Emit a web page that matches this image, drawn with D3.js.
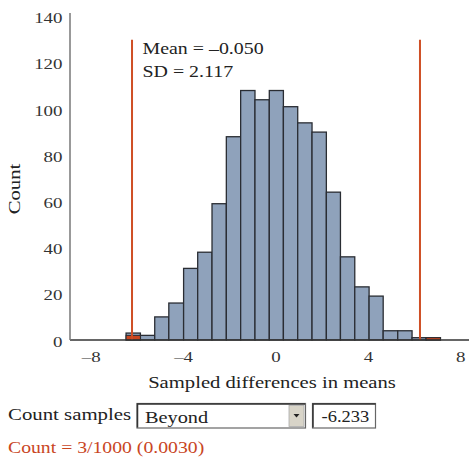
<!DOCTYPE html>
<html><head><meta charset="utf-8">
<script src="https://cdn.jsdelivr.net/npm/d3@7"></script>
<style>
html,body{margin:0;padding:0;background:#fff;}
svg{display:block;}
text{font-family:"Liberation Serif","Times New Roman",serif;}
</style></head>
<body>
<svg id="chart" width="469" height="458"></svg>
<script>
// ---- data ----
const binLower = [-6.49,-5.87,-5.25,-4.64,-4.00,-3.39,-2.77,-2.15,-1.53,-0.91,-0.29,0.32,0.94,1.56,2.18,2.79,3.41,4.03,4.64,5.27,5.89,6.50];
const binUpper = [-5.87,-5.25,-4.64,-4.00,-3.39,-2.77,-2.15,-1.53,-0.91,-0.29,0.32,0.94,1.56,2.18,2.79,3.41,4.03,4.64,5.27,5.89,6.50,7.12];
const counts   = [3,2,10,16,31,38,59,88,108,104,108,101,94,90,64,36,23,19,4,4,1,1];
const tailCounts = [2,0,0,0,0,0,0,0,0,0,0,0,0,0,0,0,0,0,0,0,0,1];
const cutoffs = [-6.233, 6.233];
const cutoffTop = 130;
const xTicks = [-8,-4,0,4,8];
const yTicks = [0,20,40,60,80,100,120,140];
const statLines = ["Mean = \u20130.050", "SD = 2.117"];
const xTitle = "Sampled differences in means";
const yTitle = "Count";
const controlLabel = "Count samples";
const selectValue = "Beyond";
const inputValue = "-6.233";
const resultText = "Count = 3/1000 (0.0030)";

// ---- drawing ----
const svg = d3.select("#chart");
const x = d3.scaleLinear().domain([-8, 8]).range([91.2, 460.8]);
const y = d3.scaleLinear().domain([0, 140]).range([340, 16.6]);
const axisLeftX = 70;

// wide serif text helper (reference glyphs are wider than tall)
function label(g, tx, ty, str, opt) {
  opt = opt || {};
  const fs = opt.fs || 17, sx = opt.sx || 1.18, rot = opt.rot || 0;
  return g.append("text")
    .attr("transform", `translate(${tx},${ty}) rotate(${rot}) scale(${sx},1)`)
    .attr("text-anchor", opt.anchor || "start")
    .attr("font-size", fs)
    .attr("fill", opt.fill || "#222")
    .text(str);
}

const bins = counts.map((c,i)=>({x0:binLower[i], x1:binUpper[i], c, t:tailCounts[i]}));

// bars
svg.append("g").selectAll("rect").data(bins).join("rect")
  .attr("x", d=>x(d.x0)).attr("width", d=>x(d.x1)-x(d.x0))
  .attr("y", d=>y(d.c)).attr("height", d=>y(0)-y(d.c))
  .attr("fill", "#8fa2bb").attr("stroke", "#2a2d33").attr("stroke-width", 1.3);

// tail highlighted portion
svg.append("g").selectAll("rect").data(bins.filter(d=>d.t>0)).join("rect")
  .attr("x", d=>x(d.x0)).attr("width", d=>x(d.x1)-x(d.x0))
  .attr("y", d=>y(d.t)).attr("height", d=>y(0)-y(d.t))
  .attr("fill", "#c9461f").attr("stroke", "#2a2d33").attr("stroke-width", 1.0);

// cutoff lines
svg.append("g").selectAll("line").data(cutoffs).join("line")
  .attr("x1", d=>x(d)).attr("x2", d=>x(d))
  .attr("y1", y(0)).attr("y2", y(cutoffTop))
  .attr("stroke", "#cf4f25").attr("stroke-width", 2);

// axes
svg.append("line").attr("x1", axisLeftX).attr("x2", 469).attr("y1", y(0)).attr("y2", y(0))
  .attr("stroke", "#333").attr("stroke-width", 1.3);
svg.append("line").attr("x1", axisLeftX).attr("x2", axisLeftX).attr("y1", 13).attr("y2", y(0))
  .attr("stroke", "#777").attr("stroke-width", 1.5);

const gx = svg.append("g");
xTicks.forEach(d => label(gx, x(d), 361.5, d<0 ? "\u2013"+Math.abs(d) : String(d),
  {fs:15.5, sx:1.22, anchor:"middle", fill:"#333"}));
const gy = svg.append("g");
yTicks.forEach(d => label(gy, 62.5, y(d)+6.5, String(d), {fs:15.5, sx:1.22, anchor:"end", fill:"#333"}));

// titles
label(svg, 272, 388, xTitle, {fs:17.5, sx:1.18, anchor:"middle"});
label(svg, 20, 189, yTitle, {fs:17, sx:1.22, anchor:"middle", rot:-90});

// stats
statLines.forEach((s,i) => label(svg, 142.5, 54+i*22.7, s, {fs:17, sx:1.17}));

// controls
label(svg, 8, 420, controlLabel, {fs:17.5, sx:1.19});
// select box
svg.append("rect").attr("x", 137).attr("y", 403.5).attr("width", 168.5).attr("height", 24.5)
  .attr("fill","#fff").attr("stroke","#666").attr("stroke-width",1.2);
svg.append("path").attr("d","M137.5,427.5 V404 H305").attr("fill","none").attr("stroke","#333").attr("stroke-width",1.5);
svg.append("rect").attr("x", 289).attr("y", 405.5).attr("width", 15).attr("height", 21)
  .attr("fill","#d8d4c8").attr("stroke","#aaa").attr("stroke-width",0.8);
svg.append("path").attr("d","M293.5,414 h6 l-3,3.5 z").attr("fill","#222");
label(svg, 145, 423, selectValue, {fs:17.5, sx:1.16});
// input box
svg.append("rect").attr("x", 312.5).attr("y", 403.5).attr("width", 63).attr("height", 24.5)
  .attr("fill","#fff").attr("stroke","#666").attr("stroke-width",1.2);
svg.append("path").attr("d","M313,427.5 V404 H375.5").attr("fill","none").attr("stroke","#333").attr("stroke-width",1.5);
label(svg, 321.5, 422, inputValue, {fs:16.5, sx:1.12});

label(svg, 8, 453, resultText, {fs:17, sx:1.16, fill:"#c9461f"});
</script>
</body></html>
